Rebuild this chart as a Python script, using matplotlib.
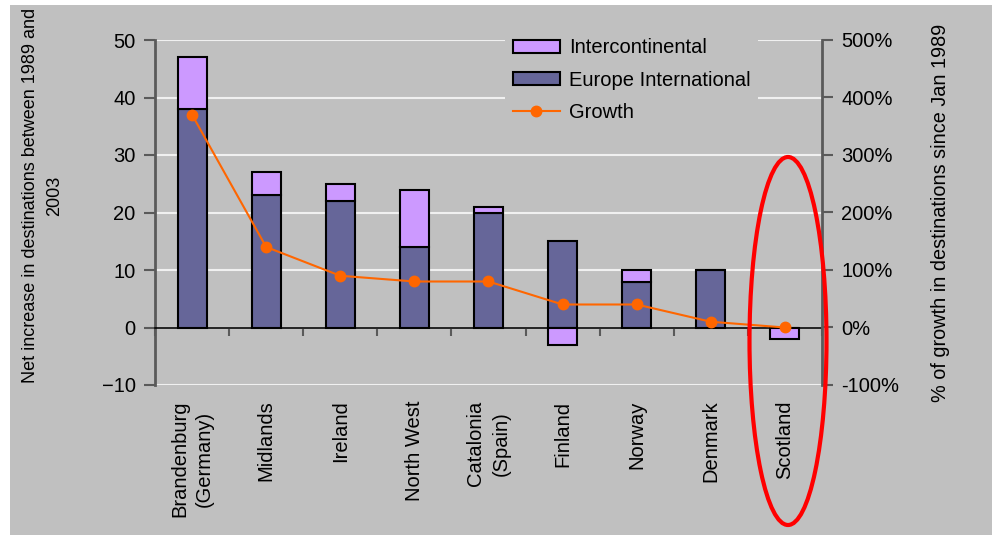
import matplotlib
matplotlib.use("Agg")
import matplotlib.pyplot as plt
import matplotlib.transforms as mtransforms
from matplotlib.patches import Rectangle, Ellipse, Patch
from matplotlib.lines import Line2D
import numpy as np

plt.rcParams['font.family'] = ['Liberation Sans', 'DejaVu Sans']

regions = ["Brandenburg\n(Germany)", "Midlands", "Ireland", "North West",
           "Catalonia\n(Spain)", "Finland", "Norway", "Denmark", "Scotland"]
europe_international = [38, 23, 22, 14, 20, 15, 8, 10, 0]
intercontinental = [9, 4, 3, 10, 1, -3, 2, 0, -2]
growth_pct = [370, 140, 90, 80, 80, 40, 40, 10, 0]

left_ticks = [-10, 0, 10, 20, 30, 40, 50]
right_ticks = [-100, 0, 100, 200, 300, 400, 500]

BG = "#c0c0c0"
EURO = "#666699"
INTER = "#cc99ff"
GROWTH = "#ff6600"
AXIS = "#5a5a5a"
FS = 14.5

W, H = 992, 535
fig = plt.figure(figsize=(W / 100, H / 100), dpi=100)
fig.patch.set_facecolor("white")
fig.patches.append(Rectangle((10 / W, 0), 1 - 10 / W, 1 - 5 / H,
                             transform=fig.transFigure, facecolor=BG,
                             edgecolor="none", zorder=-5))

ax = fig.add_axes([155 / W, 1 - 385 / H, (822 - 155) / W, (385 - 40) / H])
ax.set_facecolor(BG)
x = np.arange(len(regions))
width = 0.39

# stacked bars: positive intercontinental sits on top of Europe, negative hangs below zero
inter_bottom = [e if i >= 0 else 0 for e, i in zip(europe_international, intercontinental)]
ax.bar(x, europe_international, width, color=EURO, edgecolor="black", linewidth=1.5, zorder=3)
ax.bar(x, intercontinental, width, bottom=inter_bottom, color=INTER,
       edgecolor="black", linewidth=1.5, zorder=3)

ax.set_xlim(-0.5, len(regions) - 0.5)
ax.set_ylim(-10, 50)
ax.set_yticks(left_ticks)
ax.yaxis.grid(True, color="#f0f0f0", linewidth=1.5, zorder=1)
ax.set_axisbelow(True)
ax.tick_params(axis="y", direction="out", length=8, width=1.5, color=AXIS,
               labelsize=FS, pad=6)

# category axis at zero, ticks between categories
ax.spines["bottom"].set_position(("data", 0))
ax.spines["bottom"].set_color("black")
ax.spines["bottom"].set_linewidth(1.2)
ax.set_xticks(np.arange(len(regions) + 1) - 0.5)
ax.set_xticklabels([])
ax.tick_params(axis="x", direction="out", length=6, width=1.5, color=AXIS)
ax.spines["top"].set_visible(False)
ax.spines["right"].set_visible(False)
ax.spines["left"].set_color(AXIS)
ax.spines["left"].set_linewidth(2)

trans = mtransforms.blended_transform_factory(ax.transData, ax.transAxes)
for xi, name in zip(x, regions):
    ax.text(xi, -0.045, name, rotation=90, ha="center", va="top",
            multialignment="center", fontsize=FS, linespacing=1.4,
            transform=trans)

ax.set_ylabel("Net increase in destinations between 1989 and\n2003", fontsize=13,
              linespacing=1.55)
ax.yaxis.set_label_coords(-0.138, 0.549)

ax2 = ax.twinx()
ax2.plot(x, growth_pct, color=GROWTH, linewidth=1.5, marker="o", markersize=7.5, zorder=4)
ax2.set_ylim(-100, 500)
ax2.set_yticks(right_ticks)
ax2.set_yticklabels([f"{t}%" for t in right_ticks])
ax2.tick_params(axis="y", direction="out", length=8, width=1.5, color=AXIS,
                labelsize=FS, pad=6)
for s in ["top", "left", "bottom"]:
    ax2.spines[s].set_visible(False)
ax2.spines["right"].set_color(AXIS)
ax2.spines["right"].set_linewidth(2)
ax2.set_ylabel("% of growth in destinations since Jan 1989", fontsize=14.3)
ax2.yaxis.set_label_coords(1.163, 0.50)

handles = [Patch(facecolor=INTER, edgecolor="black", linewidth=1.5),
           Patch(facecolor=EURO, edgecolor="black", linewidth=1.5),
           Line2D([], [], color=GROWTH, linewidth=1.5, marker="o", markersize=7.5)]
leg = ax2.legend(handles, ["Intercontinental", "Europe International", "Growth"],
                 loc="upper left", bbox_to_anchor=(0.51, 1.057), frameon=True,
                 fontsize=FS, handlelength=2.3, handleheight=0.6,
                 labelspacing=0.65, borderpad=0.4, handletextpad=0.45)
leg.get_frame().set_facecolor(BG)
leg.get_frame().set_edgecolor("none")
leg.get_frame().set_alpha(1)

# highlight around the last region
fig.patches.append(Ellipse((788 / W, 1 - 341 / H), 77 / W, 368 / H,
                           transform=fig.transFigure, fill=False,
                           edgecolor="#ff0000", linewidth=3, zorder=10))

fig.savefig("out.png", dpi=100, facecolor=fig.get_facecolor())
